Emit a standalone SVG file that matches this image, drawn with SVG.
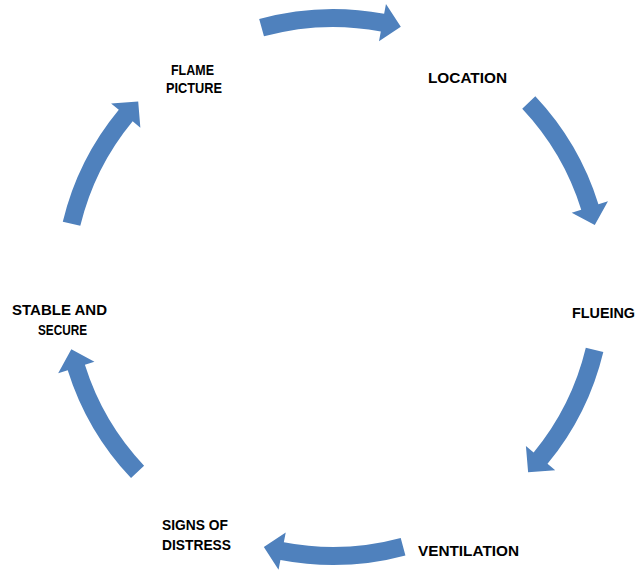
<svg xmlns="http://www.w3.org/2000/svg" xmlns:xlink="http://www.w3.org/1999/xlink" width="638" height="570" viewBox="0 0 638 570">
<style>
.arrow{fill:#4F81BD;}
.lbl{font-family:"Liberation Sans",Arial,sans-serif;font-weight:bold;font-size:15px;fill:#000;text-anchor:middle;}
</style>
<defs>
<path id="arr" d="M268.53,-71.95 A278,278 0 0 1 272.89,53.05 L282.71,54.95 L259.83,69.62 L245.41,47.70 L255.22,49.61 A260,260 0 0 0 251.14,-67.29 Z"/>
</defs>
<rect width="638" height="570" fill="#fff"/>
<g id="connectors">
<use href="#arr" class="arrow" transform="translate(333 287) rotate(-90.4)"/>
<use href="#arr" class="arrow" transform="translate(333 287) rotate(-28.3)"/>
<use href="#arr" class="arrow" transform="translate(333 287) rotate(28.5)"/>
<use href="#arr" class="arrow" transform="translate(333 287) rotate(89.9)"/>
<use href="#arr" class="arrow" transform="translate(333 287) rotate(151.6)"/>
<use href="#arr" class="arrow" transform="translate(333 287) rotate(208.6)"/>
</g>
<g id="flame-picture">
<text class="lbl" x="192.5" y="75" textLength="43" lengthAdjust="spacingAndGlyphs">FLAME</text>
<text class="lbl" x="194" y="93" textLength="56" lengthAdjust="spacingAndGlyphs">PICTURE</text>
</g>
<g id="location">
<text class="lbl" x="467.5" y="83" textLength="79" lengthAdjust="spacingAndGlyphs">LOCATION</text>
</g>
<g id="flueing">
<text class="lbl" x="603.5" y="318" textLength="63" lengthAdjust="spacingAndGlyphs">FLUEING</text>
</g>
<g id="ventilation">
<text class="lbl" x="468.5" y="556" textLength="101" lengthAdjust="spacingAndGlyphs">VENTILATION</text>
</g>
<g id="signs-of-distress">
<text class="lbl" x="195" y="530" textLength="66" lengthAdjust="spacingAndGlyphs">SIGNS OF</text>
<text class="lbl" x="196.5" y="550" textLength="69" lengthAdjust="spacingAndGlyphs">DISTRESS</text>
</g>
<g id="stable-and-secure">
<text class="lbl" x="59.5" y="315" textLength="95" lengthAdjust="spacingAndGlyphs">STABLE AND</text>
<text class="lbl" x="62.5" y="335" textLength="49" lengthAdjust="spacingAndGlyphs">SECURE</text>
</g>
</svg>
